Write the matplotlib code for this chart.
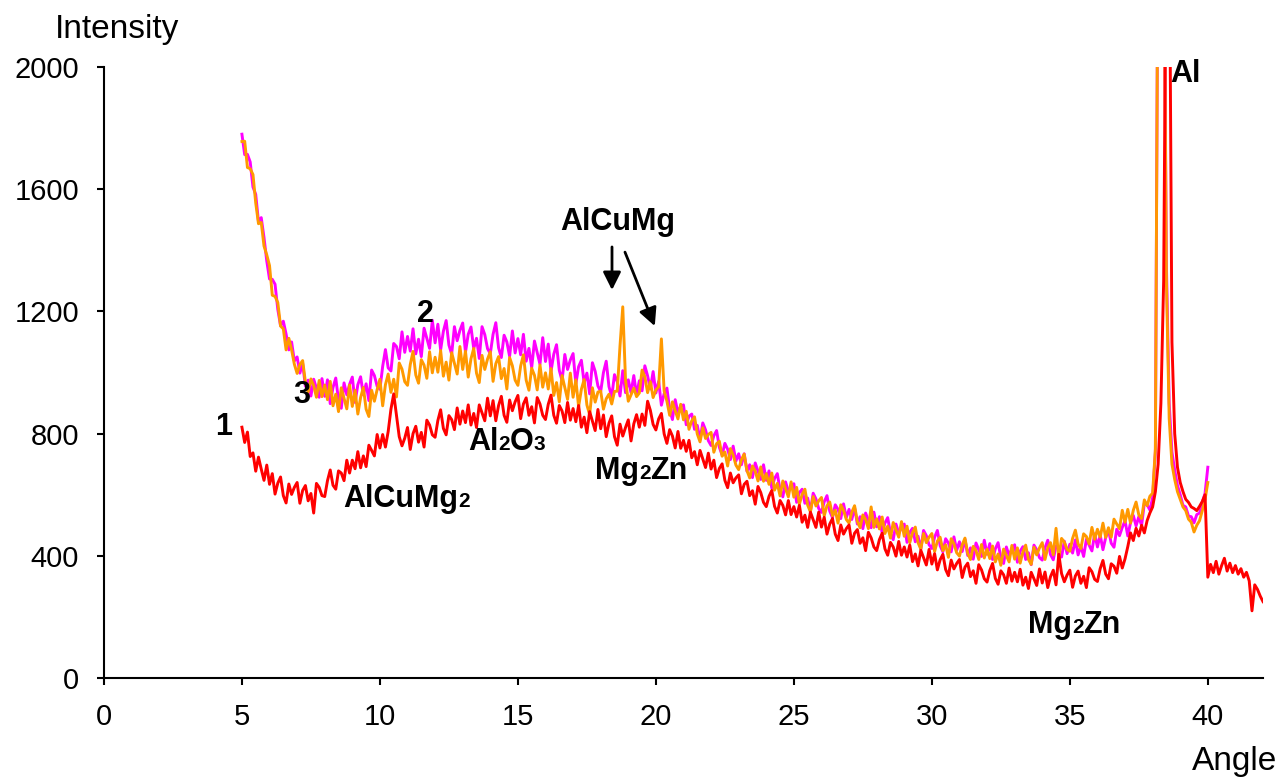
import numpy as np
import matplotlib.pyplot as plt
from matplotlib.transforms import offset_copy

plt.rcParams['font.family'] = ['Liberation Sans', 'DejaVu Sans']

#
# Diffraction scans (intensity sampled every 0.1 deg, one row = 1 deg)
#

angleStep = 0.1

# Sample 1: 5.0 ... 42.0 deg
intensity1 = [
  821, 771, 805, 725, 737, 677, 723, 684, 647, 697,
  634, 669, 602, 638, 658, 597, 573, 635, 601, 624,
  640, 572, 614, 630, 580, 604, 540, 637, 624, 597,
  594, 646, 681, 631, 618, 678, 671, 646, 713, 671,
  713, 685, 741, 688, 727, 692, 762, 745, 727, 797,
  753, 797, 756, 807, 880, 930, 860, 790, 760, 785,
  820, 748, 800, 824, 772, 804, 756, 844, 828, 796,
  788, 843, 878, 817, 796, 859, 846, 813, 884, 831,
  874, 836, 894, 828, 866, 820, 894, 868, 842, 916,
  858, 908, 842, 892, 922, 860, 837, 910, 875, 904,
  925, 849, 897, 917, 860, 888, 835, 918, 897, 860,
  846, 896, 926, 860, 834, 892, 874, 836, 902, 844,
  882, 839, 892, 821, 854, 803, 872, 841, 810, 879,
  816, 861, 790, 834, 858, 790, 762, 831, 792, 820,
  845, 776, 832, 862, 821, 864, 827, 906, 876, 830,
  812, 848, 866, 799, 768, 813, 792, 753, 807, 752,
  778, 742, 778, 721, 741, 698, 745, 717, 689, 736,
  684, 713, 656, 686, 701, 647, 623, 671, 639, 655,
  665, 603, 634, 644, 597, 613, 569, 627, 607, 575,
  561, 595, 614, 562, 540, 581, 565, 534, 581, 535,
  561, 527, 565, 510, 533, 493, 543, 518, 493, 543,
  494, 526, 471, 504, 522, 471, 450, 501, 471, 489,
  501, 441, 474, 486, 441, 459, 417, 477, 459, 429,
  417, 453, 474, 423, 402, 444, 429, 399, 447, 402,
  429, 396, 435, 381, 406, 367, 418, 394, 370, 421,
  373, 407, 354, 387, 405, 355, 335, 386, 357, 375,
  388, 329, 363, 376, 332, 351, 310, 371, 354, 325,
  314, 352, 375, 326, 307, 351, 338, 310, 360, 317,
  346, 315, 356, 304, 330, 293, 346, 325, 303, 357,
  311, 347, 296, 332, 353, 305, 405, 342, 315, 337,
  353, 297, 334, 350, 310, 333, 296, 361, 348, 323,
  316, 358, 385, 340, 325, 374, 366, 343, 398, 360,
  390, 430, 475, 450, 490, 465, 500, 475, 515, 540,
  560, 610, 700, 900, 1300, 2600, 2600, 1100, 800, 690,
  640, 610, 585, 575, 560, 555, 548, 562, 578, 600,
  330, 372, 345, 382, 340, 368, 392, 350, 376, 345,
  368, 340, 358, 330, 346, 318, 220, 305, 290, 268,
  250,
]

# Sample 2: 5.0 ... 40.0 deg
intensity2 = [
  1780, 1713, 1714, 1689, 1607, 1583, 1494, 1507, 1442, 1365,
  1306, 1305, 1289, 1206, 1153, 1168, 1126, 1074, 1100, 1038,
  1051, 998, 1030, 955, 975, 923, 978, 949, 919, 980,
  922, 976, 898, 951, 982, 909, 883, 966, 927, 961,
  985, 902, 960, 986, 927, 963, 908, 1008, 990, 955,
  945, 1020, 1075, 1015, 1005, 1095, 1085, 1045, 1133, 1066,
  1118, 1070, 1143, 1061, 1109, 1052, 1145, 1112, 1079, 1171,
  1097, 1158, 1074, 1135, 1170, 1090, 1060, 1150, 1104, 1138,
  1162, 1066, 1125, 1149, 1078, 1112, 1046, 1150, 1124, 1078,
  1062, 1125, 1163, 1081, 1049, 1122, 1100, 1053, 1136, 1064,
  1111, 1058, 1125, 1037, 1079, 1016, 1103, 1065, 1027, 1114,
  1036, 1093, 1004, 1060, 1091, 1007, 973, 1059, 1010, 1041,
  1062, 963, 1019, 1040, 966, 998, 930, 1032, 1004, 956,
  938, 1000, 1037, 954, 921, 993, 970, 923, 1006, 934,
  976, 934, 990, 927, 973, 940, 1022, 989, 946, 1003,
  933, 971, 893, 931, 949, 878, 846, 911, 868, 890,
  894, 829, 857, 864, 814, 827, 780, 835, 812, 777,
  761, 793, 810, 755, 730, 768, 749, 715, 759, 710,
  734, 698, 734, 677, 698, 656, 704, 677, 650, 698,
  647, 678, 622, 653, 669, 616, 593, 642, 610, 626,
  636, 575, 607, 618, 572, 589, 546, 605, 586, 555,
  542, 577, 597, 546, 525, 567, 552, 522, 570, 525,
  552, 519, 558, 504, 528, 489, 540, 516, 492, 543,
  495, 528, 474, 507, 525, 474, 453, 504, 474, 492,
  504, 444, 477, 490, 446, 464, 422, 483, 466, 436,
  424, 461, 483, 433, 413, 456, 442, 413, 462, 418,
  446, 414, 454, 401, 426, 389, 442, 420, 398, 451,
  405, 440, 388, 423, 443, 394, 375, 429, 401, 422,
  436, 379, 415, 430, 388, 410, 371, 435, 420, 394,
  386, 426, 451, 404, 387, 433, 422, 396, 448, 407,
  438, 409, 452, 403, 432, 398, 454, 435, 416, 472,
  429, 468, 420, 460, 485, 441, 428, 487, 466, 493,
  515, 465, 509, 532, 498, 528, 499, 572, 567, 550,
  590, 740, 2600, 2600, 2600, 1350, 900, 740, 680, 630,
  600, 565, 560, 530, 528, 508, 535, 540, 575, 605,
  690,
]

# Sample 3: 5.0 ... 40.0 deg
intensity3 = [
  1756, 1757, 1671, 1667, 1648, 1555, 1487, 1491, 1414, 1385,
  1350, 1253, 1249, 1229, 1152, 1143, 1074, 1112, 1074, 1027,
  997, 1026, 1039, 969, 936, 979, 957, 919, 974, 921,
  959, 911, 971, 891, 929, 872, 950, 916, 881, 959,
  889, 942, 864, 918, 951, 880, 856, 942, 906, 944,
  978, 891, 960, 995, 935, 978, 920, 1031, 1011, 970,
  958, 1026, 1069, 992, 965, 1042, 1024, 981, 1068, 999,
  1050, 1001, 1072, 988, 1034, 975, 1065, 1030, 995, 1085,
  1010, 1070, 985, 1045, 1079, 998, 967, 1056, 1010, 1044,
  1068, 971, 1029, 1052, 980, 1013, 946, 1049, 1022, 975,
  958, 1021, 1058, 975, 942, 1014, 991, 943, 1025, 952,
  999, 946, 1013, 925, 967, 904, 990, 951, 912, 998,
  919, 976, 888, 945, 977, 894, 862, 950, 903, 936,
  939, 880, 914, 929, 897, 938, 939, 1087, 1215, 975,
  906, 927, 949, 921, 933, 1008, 986, 934, 970, 918,
  943, 953, 1110, 939, 906, 860, 904, 875, 848, 896,
  845, 873, 814, 842, 855, 799, 773, 819, 784, 797,
  804, 739, 767, 775, 726, 740, 694, 751, 730, 697,
  682, 715, 733, 679, 655, 694, 677, 645, 691, 644,
  669, 634, 671, 615, 637, 596, 645, 619, 593, 642,
  592, 624, 569, 601, 618, 566, 544, 594, 563, 580,
  591, 531, 564, 576, 531, 549, 507, 567, 549, 519,
  507, 543, 564, 513, 492, 534, 519, 489, 560, 493,
  521, 488, 527, 473, 497, 458, 509, 485, 461, 512,
  464, 497, 443, 476, 494, 443, 422, 473, 443, 461,
  473, 414, 448, 461, 417, 436, 395, 456, 439, 410,
  399, 436, 458, 408, 388, 431, 417, 388, 437, 393,
  422, 391, 432, 380, 406, 369, 422, 401, 380, 434,
  389, 426, 376, 413, 435, 388, 372, 428, 403, 426,
  443, 388, 426, 443, 403, 490, 391, 457, 445, 421,
  415, 457, 484, 439, 424, 472, 463, 439, 493, 454,
  487, 461, 507, 460, 492, 461, 520, 504, 489, 549,
  510, 552, 507, 549, 576, 534, 522, 583, 564, 595,
  605, 750, 2600, 2600, 2600, 1300, 850, 700, 650, 610,
  585, 560, 548, 520, 510, 478, 500, 515, 548, 585,
  640,
]

angle1 = np.round(5.0 + angleStep*np.arange(len(intensity1)), 1)
angle2 = np.round(5.0 + angleStep*np.arange(len(intensity2)), 1)
angle3 = np.round(5.0 + angleStep*np.arange(len(intensity3)), 1)

xTicks = np.arange(0, 41, 5)
yTicks = np.arange(0, 2001, 400)

#
# Plot
#

fig = plt.figure(figsize=(12.88, 7.78), dpi=100)
ax = fig.add_axes([0.0807, 0.1285, 0.8999, 0.7854])

ax.plot(angle2, intensity2, color='#FF00FF', lw=2.1)
ax.plot(angle3, intensity3, color='#FF9900', lw=2.1)
ax.plot(angle1, intensity1, color='#FF0000', lw=2.1)

ax.set_xlim(0, 42)
ax.set_ylim(0, 2000)
ax.set_xticks(xTicks)
ax.set_yticks(yTicks)
ax.tick_params(axis='both', direction='out', length=5, width=1.5, pad=13, labelsize=21)
for side in ['top', 'right']:
  ax.spines[side].set_visible(False)
for side in ['left', 'bottom']:
  ax.spines[side].set_linewidth(1.5)

fig.text(55/1288., 1 - 38/778., 'Intensity', fontsize=24, ha='left', va='baseline')
fig.text(1192/1288., 1 - 770/778., 'Angle', fontsize=24, ha='left', va='baseline')

#Phase labels with small subscript digits sitting on the baseline
renderer = fig.canvas.get_renderer()

def chemLabel(x, y, parts):
  dx = 0.
  for s, small in parts:
    tr = offset_copy(ax.transData, fig=fig, x=dx, y=0, units='dots')
    t = ax.text(x, y, s, transform=tr, fontsize=15 if small else 22,
                fontweight='bold', ha='left', va='baseline')
    dx += t.get_window_extent(renderer).width

chemLabel(8.66, 560, [('AlCuMg', False), ('2', True)])
chemLabel(13.19, 746, [('Al', False), ('2', True), ('O', False), ('3', True)])
chemLabel(17.79, 650, [('Mg', False), ('2', True), ('Zn', False)])
chemLabel(33.48, 147, [('Mg', False), ('2', True), ('Zn', False)])
chemLabel(38.62, 1951, [('Al', False)])

ax.text(18.62, 1466, 'AlCuMg', fontsize=22, fontweight='bold', ha='center', va='baseline')
ax.text(4.02, 795, '1', fontsize=22, fontweight='bold', ha='left', va='baseline')
ax.text(11.34, 1165, '2', fontsize=22, fontweight='bold', ha='left', va='baseline')
ax.text(6.85, 900, '3', fontsize=22, fontweight='bold', ha='left', va='baseline')

arrowStyle = dict(arrowstyle='-|>,head_length=0.4,head_width=0.2', color='black',
                  lw=2, mutation_scale=27, shrinkA=0, shrinkB=0)
ax.annotate('', xy=(18.41, 1270), xytext=(18.41, 1411), arrowprops=arrowStyle)
ax.annotate('', xy=(19.96, 1152), xytext=(18.88, 1394), arrowprops=arrowStyle)

fig.savefig('out.png', dpi=100)
